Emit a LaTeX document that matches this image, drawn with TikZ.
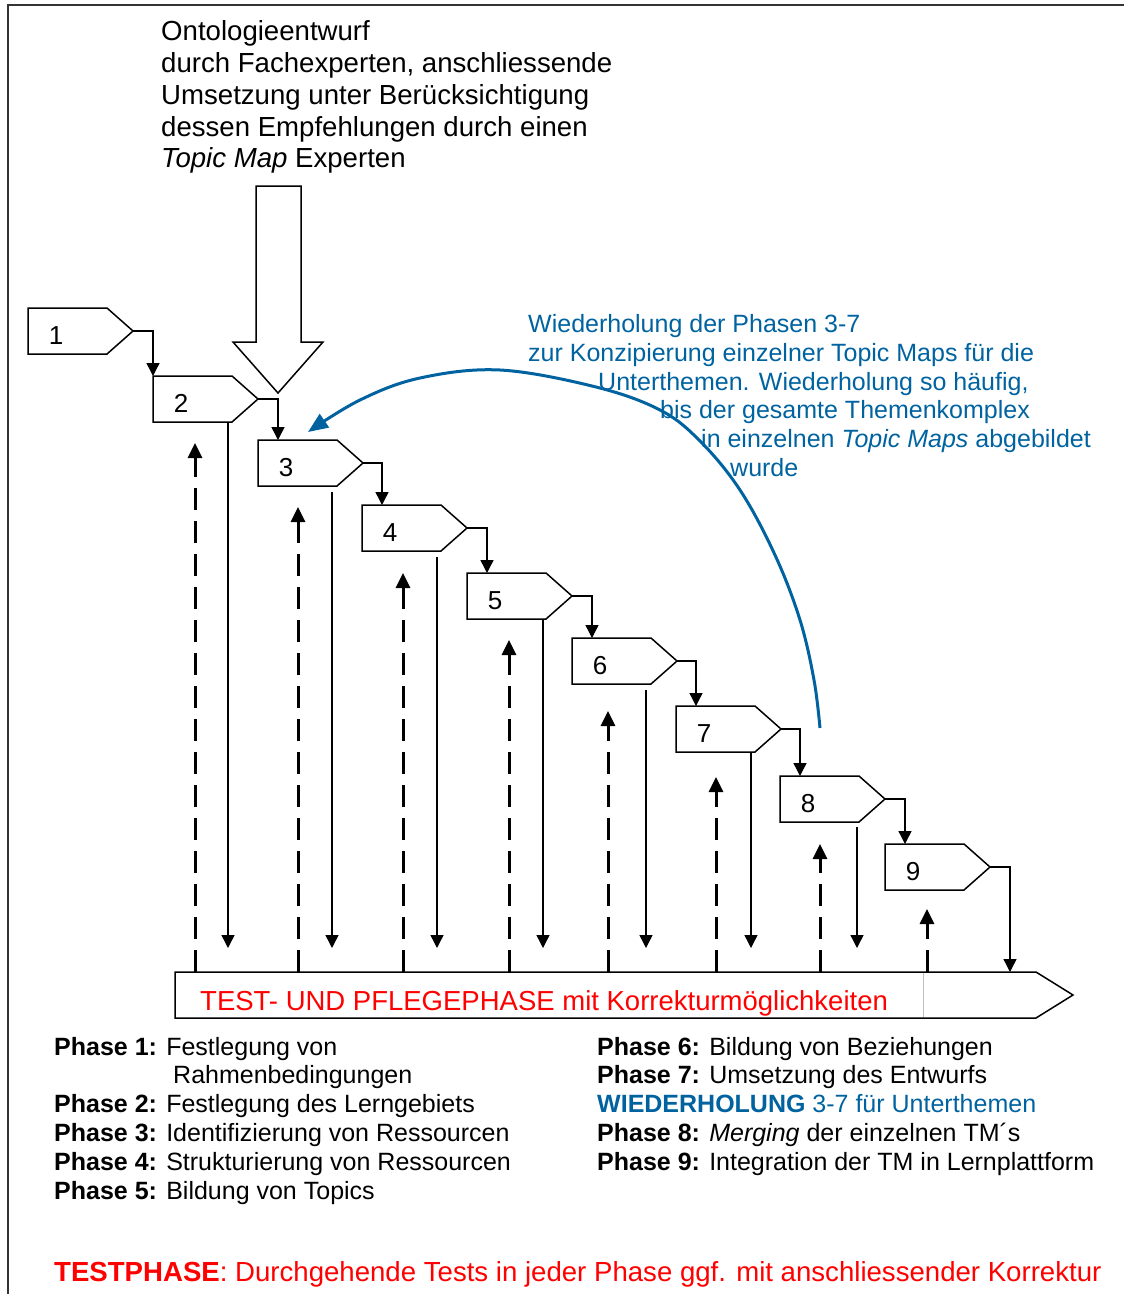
\documentclass[tikz,border=0pt]{standalone}
\usepackage{fontspec}
\setmainfont{Liberation Sans}
\usetikzlibrary{arrows.meta}
\definecolor{wblue}{RGB}{0,99,160}
\definecolor{wred}{RGB}{255,0,0}
\newcommand{\fbig}{\fontsize{27.6}{32}\selectfont}
\newcommand{\fmid}{\fontsize{25}{29}\selectfont}
\begin{document}
\begin{tikzpicture}[x=1pt,y=-1pt,
  phbox/.style={draw=black, line width=1.5pt, fill=white, line join=miter},
  flow/.style={draw=black, line width=1.4pt, -{Triangle[width=13pt,length=13pt]}},
  back/.style={draw=black, line width=3pt, dash pattern=on 22pt off 11pt, -{Triangle[width=14pt,length=15pt]}},
  num/.style={font=\fontsize{26}{30}\selectfont, anchor=base, inner sep=0pt},
  txtbig/.style={font=\fbig, anchor=base west, inner sep=0pt},
  txtmid/.style={font=\fmid, anchor=base west, inner sep=0pt},
  bluetxt/.style={txtmid, text=wblue},
  loop/.style={draw=wblue, line width=3pt, -{Triangle[width=16pt,length=20pt]}}
]
\useasboundingbox (0,0) rectangle (1124,1294);
% frame
\draw[line width=2pt, black!80] (8,1294) -- (8,5) -- (1124,5);

% top text
\node[txtbig] (t1) at (161,40) {Ontologieentwurf};
\node[txtbig] (t2) at (161,72) {durch Fachexperten, anschliessende};
\node[txtbig] (t3) at (161,104) {Umsetzung unter Berücksichtigung};
\node[txtbig] (t4) at (161,136) {dessen Empfehlungen durch einen};
\node[txtbig] (t5) at (161,167) {\textit{Topic Map} Experten};

% big arrow
\draw[phbox] (256,186) -- (301,186) -- (301,342) -- (323,342) -- (278,393) coordinate (bigtip)
  -- (233,342) -- (256,342) -- cycle;

% phase boxes
\foreach \i/\X/\Y in {1/28/308, 2/153/376, 3/258/440, 4/362/505, 5/467/573, 6/572/638, 7/676/706, 8/780/776, 9/885/844}{
  \draw[phbox] (\X,\Y) coordinate (tl\i) -- ++(79,0) -- ++(26,23) coordinate (tip\i)
    -- ++(-26,23) -- ++(-79,0) -- cycle;
  \coordinate (in\i) at (\X+20,\Y);
  \node[num] (n\i) at (\X+28,\Y+36) {\i};
}

% bar
\coordinate (bartop) at (0,972);
\coordinate (downend) at (0,948);
\draw[line width=1.5pt] (175,972) -- (1036,972) -- (1073,995) coordinate (bartip) -- (1036,1018) -- (175,1018) -- cycle;
\draw[black!25, line width=1pt] (923,973) -- (923,1017);
\node[txtbig, text=wred, font=\fontsize{27.5}{32}\selectfont] (bartext) at (200,1010) {TEST- UND PFLEGEPHASE mit Korrekturmöglichkeiten};
\coordinate (barin) at (1010,972);

% flow connectors
\draw[flow] (tip1) -| (tl2);
\foreach \a/\b in {2/3,3/4,4/5,5/6,6/7,7/8,8/9}{
  \draw[flow] (tip\a) -| (in\b);
}
\draw[flow] (tip9) -| (barin);

% solid down arrows
\foreach \x/\s in {228/422, 332/492, 437/557, 543/620, 646/690, 751/752, 857/827}{
  \coordinate (ds\x) at (\x,\s);
  \draw[flow] (ds\x) -- (ds\x |- downend);
}

% dashed up arrows
\foreach \x/\e in {195/443, 298/507, 403/573, 509/640, 608/711, 716/777, 820/844, 927/909}{
  \coordinate (ue\x) at (\x,\e);
  \draw[back] (ue\x |- bartop) -- (ue\x);
}

% blue loop
\coordinate (loopstart) at (820,728);
\coordinate (loopend) at (308,432);
\draw[loop] plot[smooth, tension=0.6] coordinates {(loopstart) (814,680) (800,620) (775,555) (740,490) (700,441) (660,410) (596,387) (500,370) (420,378) (360,400) (loopend)};

% blue text
\node[bluetxt] (b1) at (528,332) {Wiederholung der Phasen 3-7};
\node[bluetxt] (b2) at (528,361) {zur Konzipierung einzelner Topic Maps für die};
\node[bluetxt] (b3) at (598,390) {Unterthemen. Wiederholung so häufig,};
\node[bluetxt] (b4) at (660,418) {bis der gesamte Themenkomplex};
\node[bluetxt] (b5) at (701,447) {in einzelnen \textit{Topic Maps} abgebildet};
\node[bluetxt] (b6) at (730,476) {wurde};

% legend left
\node[txtmid] (l1) at (54,1055) {\textbf{Phase 1:} Festlegung von};
\node[txtmid] (l1b) at (173,1083) {Rahmenbedingungen};
\node[txtmid] (l2) at (54,1112) {\textbf{Phase 2:} Festlegung des Lerngebiets};
\node[txtmid] (l3) at (54,1141) {\textbf{Phase 3:} Identifizierung von Ressourcen};
\node[txtmid] (l4) at (54,1170) {\textbf{Phase 4:} Strukturierung von Ressourcen};
\node[txtmid] (l5) at (54,1199) {\textbf{Phase 5:} Bildung von Topics};

% legend right
\node[txtmid] (r6) at (597,1055) {\textbf{Phase 6:} Bildung von Beziehungen};
\node[txtmid] (r7) at (597,1083) {\textbf{Phase 7:} Umsetzung des Entwurfs};
\node[bluetxt] (rw) at (597,1112) {\textbf{WIEDERHOLUNG} 3-7 für Unterthemen};
\node[txtmid] (r8) at (597,1141) {\textbf{Phase 8:} \textit{Merging} der einzelnen TM´s};
\node[txtmid] (r9) at (597,1170) {\textbf{Phase 9:} Integration der TM in Lernplattform};

% bottom red
\node[txtbig, text=wred] (test) at (54,1281) {\textbf{TESTPHASE}: Durchgehende Tests in jeder Phase ggf. mit anschliessender Korrektur};
\end{tikzpicture}
\end{document}
